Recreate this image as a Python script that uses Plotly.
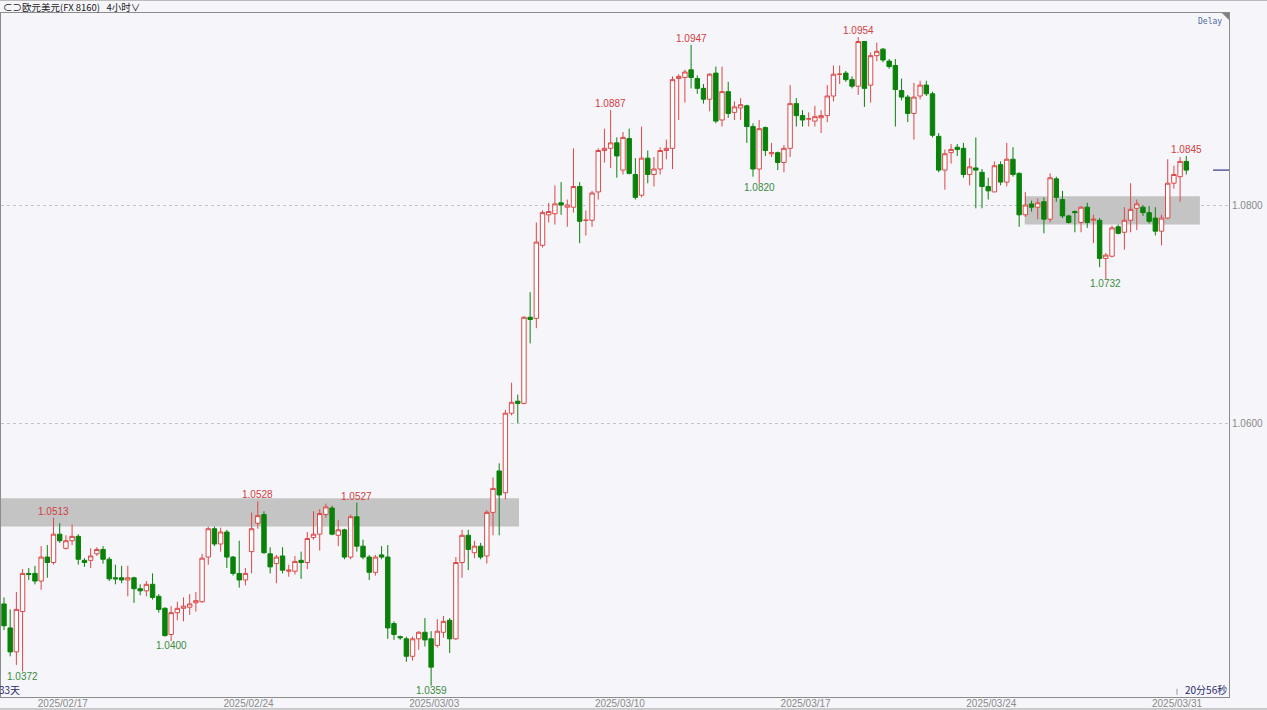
import plotly.graph_objects as go

# ---------------- data (EUR/USD 4h candles) ----------------
open_ = [
    1.0434, 1.0412, 1.0390, 1.0427, 1.0462, 1.0462, 1.0455, 1.0477, 1.0472, 1.0498,
    1.0485, 1.0492, 1.0496, 1.0474, 1.0474, 1.0480, 1.0484, 1.0475, 1.0458, 1.0458,
    1.0456, 1.0458, 1.0448, 1.0446, 1.0452, 1.0441, 1.0430, 1.0406, 1.0426, 1.0430,
    1.0431, 1.0435, 1.0436, 1.0477, 1.0503, 1.0489, 1.0500, 1.0477, 1.0462, 1.0456,
    1.0482, 1.0508, 1.0516, 1.0480, 1.0471, 1.0478, 1.0464, 1.0464, 1.0474, 1.0472,
    1.0495, 1.0498, 1.0516, 1.0522, 1.0497, 1.0502, 1.0477, 1.0514, 1.0487, 1.0477,
    1.0463, 1.0479, 1.0477, 1.0416, 1.0404, 1.0402, 1.0386, 1.0402, 1.0408, 1.0402,
    1.0396, 1.0408, 1.0419, 1.0402, 1.0472, 1.0497, 1.0481, 1.0487, 1.0478, 1.0518,
    1.0556, 1.0536, 1.0609, 1.0620, 1.0618, 1.0697, 1.0696, 1.0763, 1.0791, 1.0792,
    1.0802, 1.0798, 1.0798, 1.0817, 1.0786, 1.0786, 1.0812, 1.0850, 1.0852, 1.0857,
    1.0832, 1.0861, 1.0828, 1.0809, 1.0843, 1.0828, 1.0833, 1.0850, 1.0852, 1.0916,
    1.0917, 1.0924, 1.0916, 1.0907, 1.0897, 1.0921, 1.0878, 1.0904, 1.0885, 1.0889,
    1.0891, 1.0872, 1.0833, 1.0871, 1.0847, 1.0848, 1.0839, 1.0852, 1.0893, 1.0882,
    1.0879, 1.0877, 1.0880, 1.0882, 1.0900, 1.0920, 1.0921, 1.0915, 1.0909, 1.0950,
    1.0910, 1.0937, 1.0943, 1.0932, 1.0928, 1.0905, 1.0899, 1.0884, 1.0900, 1.0910,
    1.0902, 1.0863, 1.0832, 1.0848, 1.0853, 1.0852, 1.0828, 1.0834, 1.0830, 1.0817,
    1.0812, 1.0837, 1.0821, 1.0842, 1.0829, 1.0791, 1.0801, 1.0798, 1.0803, 1.0787,
    1.0824, 1.0805, 1.0790, 1.0794, 1.0784, 1.0798, 1.0786, 1.0786, 1.0751, 1.0753,
    1.0780, 1.0775, 1.0786, 1.0797, 1.0798, 1.0793, 1.0788, 1.0776, 1.0788, 1.0820,
    1.0826, 1.0840,
]
high = [
    1.0440, 1.0429, 1.0445, 1.0466, 1.0467, 1.0469, 1.0487, 1.0488, 1.0513, 1.0508,
    1.0497, 1.0507, 1.0498, 1.0476, 1.0485, 1.0486, 1.0487, 1.0477, 1.0470, 1.0469,
    1.0469, 1.0459, 1.0452, 1.0455, 1.0462, 1.0443, 1.0431, 1.0432, 1.0436, 1.0440,
    1.0443, 1.0445, 1.0480, 1.0505, 1.0505, 1.0504, 1.0502, 1.0478, 1.0492, 1.0467,
    1.0518, 1.0528, 1.0519, 1.0486, 1.0479, 1.0486, 1.0470, 1.0478, 1.0482, 1.0500,
    1.0519, 1.0521, 1.0526, 1.0524, 1.0511, 1.0503, 1.0516, 1.0527, 1.0493, 1.0479,
    1.0479, 1.0487, 1.0488, 1.0418, 1.0405, 1.0404, 1.0404, 1.0409, 1.0421, 1.0409,
    1.0420, 1.0423, 1.0421, 1.0477, 1.0502, 1.0502, 1.0492, 1.0490, 1.0520, 1.0550,
    1.0563, 1.0612, 1.0637, 1.0626, 1.0698, 1.0720, 1.0784, 1.0795, 1.0802, 1.0818,
    1.0821, 1.0805, 1.0852, 1.0821, 1.0795, 1.0813, 1.0852, 1.0870, 1.0887, 1.0862,
    1.0867, 1.0870, 1.0843, 1.0872, 1.0850, 1.0844, 1.0853, 1.0860, 1.0918, 1.0920,
    1.0924, 1.0947, 1.0919, 1.0911, 1.0921, 1.0927, 1.0927, 1.0913, 1.0895, 1.0898,
    1.0892, 1.0875, 1.0878, 1.0872, 1.0857, 1.0849, 1.0855, 1.0910, 1.0898, 1.0887,
    1.0885, 1.0891, 1.0887, 1.0910, 1.0928, 1.0928, 1.0923, 1.0918, 1.0954, 1.0950,
    1.0940, 1.0949, 1.0944, 1.0934, 1.0934, 1.0916, 1.0901, 1.0912, 1.0914, 1.0914,
    1.0904, 1.0866, 1.0851, 1.0856, 1.0856, 1.0857, 1.0843, 1.0862, 1.0833, 1.0825,
    1.0840, 1.0840, 1.0857, 1.0853, 1.0830, 1.0812, 1.0804, 1.0806, 1.0807, 1.0829,
    1.0826, 1.0813, 1.0791, 1.0795, 1.0799, 1.0802, 1.0791, 1.0788, 1.0756, 1.0781,
    1.0782, 1.0798, 1.0820, 1.0805, 1.0800, 1.0799, 1.0798, 1.0791, 1.0842, 1.0836,
    1.0844, 1.0845,
]
low = [
    1.0410, 1.0386, 1.0378, 1.0372, 1.0456, 1.0452, 1.0447, 1.0458, 1.0470, 1.0490,
    1.0484, 1.0488, 1.0470, 1.0468, 1.0467, 1.0478, 1.0471, 1.0455, 1.0452, 1.0453,
    1.0441, 1.0435, 1.0442, 1.0441, 1.0438, 1.0426, 1.0404, 1.0400, 1.0419, 1.0418,
    1.0424, 1.0427, 1.0435, 1.0470, 1.0487, 1.0482, 1.0467, 1.0460, 1.0449, 1.0451,
    1.0462, 1.0503, 1.0480, 1.0462, 1.0453, 1.0462, 1.0459, 1.0461, 1.0457, 1.0466,
    1.0493, 1.0483, 1.0513, 1.0497, 1.0487, 1.0475, 1.0475, 1.0482, 1.0475, 1.0456,
    1.0460, 1.0475, 1.0402, 1.0401, 1.0401, 1.0381, 1.0382, 1.0392, 1.0395, 1.0359,
    1.0394, 1.0403, 1.0389, 1.0401, 1.0458, 1.0465, 1.0476, 1.0475, 1.0471, 1.0497,
    1.0497, 1.0530, 1.0607, 1.0600, 1.0617, 1.0673, 1.0687, 1.0761, 1.0784, 1.0782,
    1.0791, 1.0780, 1.0793, 1.0765, 1.0772, 1.0780, 1.0805, 1.0839, 1.0834, 1.0825,
    1.0828, 1.0828, 1.0805, 1.0807, 1.0820, 1.0817, 1.0828, 1.0842, 1.0833, 1.0878,
    1.0894, 1.0907, 1.0902, 1.0893, 1.0886, 1.0875, 1.0872, 1.0880, 1.0878, 1.0878,
    1.0857, 1.0826, 1.0820, 1.0845, 1.0844, 1.0832, 1.0830, 1.0844, 1.0872, 1.0872,
    1.0872, 1.0872, 1.0866, 1.0876, 1.0895, 1.0911, 1.0913, 1.0907, 1.0901, 1.0890,
    1.0894, 1.0932, 1.0931, 1.0925, 1.0872, 1.0896, 1.0876, 1.0860, 1.0897, 1.0900,
    1.0862, 1.0830, 1.0814, 1.0838, 1.0845, 1.0825, 1.0818, 1.0797, 1.0797, 1.0805,
    1.0812, 1.0818, 1.0817, 1.0826, 1.0780, 1.0789, 1.0794, 1.0787, 1.0774, 1.0784,
    1.0803, 1.0788, 1.0783, 1.0775, 1.0775, 1.0779, 1.0765, 1.0743, 1.0732, 1.0752,
    1.0773, 1.0759, 1.0775, 1.0777, 1.0790, 1.0783, 1.0772, 1.0763, 1.0787, 1.0815,
    1.0803, 1.0828,
]
close = [
    1.0414, 1.0390, 1.0429, 1.0462, 1.0461, 1.0455, 1.0477, 1.0472, 1.0498, 1.0492,
    1.0492, 1.0496, 1.0475, 1.0472, 1.0478, 1.0484, 1.0475, 1.0457, 1.0457, 1.0456,
    1.0458, 1.0448, 1.0446, 1.0452, 1.0440, 1.0429, 1.0405, 1.0426, 1.0430, 1.0432,
    1.0434, 1.0437, 1.0476, 1.0503, 1.0489, 1.0500, 1.0477, 1.0462, 1.0456, 1.0462,
    1.0503, 1.0515, 1.0481, 1.0468, 1.0477, 1.0465, 1.0465, 1.0473, 1.0472, 1.0494,
    1.0498, 1.0517, 1.0523, 1.0498, 1.0502, 1.0477, 1.0514, 1.0487, 1.0477, 1.0463,
    1.0477, 1.0477, 1.0412, 1.0406, 1.0403, 1.0386, 1.0402, 1.0408, 1.0401, 1.0376,
    1.0409, 1.0418, 1.0402, 1.0472, 1.0497, 1.0484, 1.0487, 1.0477, 1.0518, 1.0540,
    1.0534, 1.0609, 1.0619, 1.0618, 1.0697, 1.0695, 1.0766, 1.0793, 1.0794, 1.0801,
    1.0800, 1.0800, 1.0817, 1.0785, 1.0786, 1.0811, 1.0850, 1.0852, 1.0857, 1.0845,
    1.0862, 1.0829, 1.0807, 1.0843, 1.0828, 1.0833, 1.0850, 1.0852, 1.0915, 1.0918,
    1.0922, 1.0917, 1.0907, 1.0897, 1.0920, 1.0877, 1.0904, 1.0884, 1.0890, 1.0892,
    1.0872, 1.0833, 1.0870, 1.0850, 1.0848, 1.0839, 1.0852, 1.0893, 1.0882, 1.0878,
    1.0879, 1.0881, 1.0882, 1.0900, 1.0920, 1.0920, 1.0915, 1.0909, 1.0950, 1.0907,
    1.0937, 1.0941, 1.0933, 1.0927, 1.0906, 1.0899, 1.0884, 1.0899, 1.0910, 1.0902,
    1.0864, 1.0832, 1.0847, 1.0851, 1.0851, 1.0828, 1.0835, 1.0832, 1.0817, 1.0813,
    1.0836, 1.0821, 1.0842, 1.0828, 1.0791, 1.0800, 1.0798, 1.0802, 1.0787, 1.0825,
    1.0807, 1.0790, 1.0784, 1.0793, 1.0798, 1.0784, 1.0787, 1.0751, 1.0754, 1.0779,
    1.0774, 1.0786, 1.0796, 1.0801, 1.0793, 1.0785, 1.0776, 1.0788, 1.0820, 1.0828,
    1.0840, 1.0832,
]

week_start = [10, 40, 70, 100, 130, 160, 190]
week_labels = ["2025/02/17", "2025/02/24", "2025/03/03", "2025/03/10",
               "2025/03/17", "2025/03/24", "2025/03/31"]
y_ticks = [1.0600, 1.0800]
high_marks = [8, 41, 57, 98, 111, 138, 191]
low_marks = [3, 27, 69, 122, 178]
# consolidation zones: (first candle, last candle, lower price, upper price)
zone_start = [-0.5, 164.9]
zone_end = [83.2, 193.2]
zone_low = [1.0505, 1.0782]
zone_high = [1.0531, 1.0808]

title_text = "⊂⊃欧元美元(FX 8160)   4小时∨"
left_note = "33天"
right_note = "20分56秒"

# ---------------- style ----------------
BG = "#f5f5fa"
RED = "#dc4848"
GREEN = "#0a820a"
RED_TXT = "#d24040"
GREEN_TXT = "#3a8c3a"
AXIS_TXT = "#8a8a8a"
FRAME = "#8c8c8c"
NAVY = "#2a2a70"
NUM_FONT = "Liberation Sans, Arial, sans-serif"
CJK_FONT = "Noto Sans CJK SC, DejaVu Sans, sans-serif"

n = len(open_)
idx = list(range(n))

fig = go.Figure()
fig.add_trace(go.Candlestick(
    x=idx, open=open_, high=high, low=low, close=close,
    increasing=dict(line=dict(color=RED, width=1), fillcolor="#ffffff"),
    decreasing=dict(line=dict(color=GREEN, width=1), fillcolor=GREEN),
    whiskerwidth=0, hoverinfo="skip", showlegend=False,
))

# zones
for x0, x1, lo, hi in zip(zone_start, zone_end, zone_low, zone_high):
    fig.add_shape(type="rect", xref="x", yref="y", x0=x0, x1=x1, y0=lo, y1=hi,
                  fillcolor="#c4c4c4", line=dict(width=0), layer="between")

# high / low marks
for i in high_marks:
    fig.add_annotation(x=i, y=high[i], text=f"{high[i]:.4f}", showarrow=False,
                       yanchor="bottom", xanchor="center", yshift=-1,
                       font=dict(color=RED_TXT, size=10, family=NUM_FONT))
for i in low_marks:
    fig.add_annotation(x=i, y=low[i], text=f"{low[i]:.4f}", showarrow=False,
                       yanchor="top", xanchor="center", yshift=2, borderpad=0,
                       font=dict(color=GREEN_TXT, size=10, family=NUM_FONT))

# current price marker on right edge
fig.add_shape(type="line", xref="paper", yref="y", x0=0.987, x1=1.0,
              y0=close[-1], y1=close[-1], line=dict(color="#5a5a9c", width=1.5))

# countdown tick
fig.add_shape(type="line", xref="x", yref="paper", x0=week_start[-1] - 0.5,
              x1=week_start[-1] - 0.5, y0=0.003, y1=0.012,
              line=dict(color="#9a9a9a", width=1))

# top-right corner triangle
fig.add_shape(type="path", xref="paper", yref="paper", xsizemode="pixel",
              ysizemode="pixel", xanchor=1, yanchor=1,
              path="M-7,0 L0,0 L0,-7 Z", fillcolor="#808080",
              line=dict(width=0))

# outer lines (bottom strip & top edge)
fig.add_shape(type="line", xref="paper", yref="paper", x0=-0.001, x1=1.031,
              y0=-0.0175, y1=-0.0175, line=dict(color="#a0a0a0", width=1))
fig.add_shape(type="line", xref="paper", yref="paper", x0=-0.001, x1=1.031,
              y0=1.0185, y1=1.0185, line=dict(color="#b0b0b0", width=1))

# texts
fig.add_annotation(xref="paper", yref="paper", x=0, y=1.0095, xanchor="left",
                   yanchor="middle", xshift=1, borderpad=0, showarrow=False,
                   text=title_text,
                   font=dict(size=9.5, color="#222222", family=CJK_FONT))
fig.add_annotation(xref="paper", yref="paper", x=0.9845, y=0.9883,
                   xanchor="center", yanchor="middle",
                   showarrow=False, text="Delay",
                   font=dict(size=8, color="#4a6aa0",
                             family="DejaVu Sans Mono, monospace"))
fig.add_annotation(xref="paper", yref="paper", x=0, y=0.0110, xanchor="left",
                   yanchor="middle", xshift=-3, borderpad=0, showarrow=False,
                   text=left_note,
                   font=dict(size=10, color=NAVY, family=CJK_FONT))
fig.add_annotation(xref="paper", yref="paper", x=1, y=0.0110, xanchor="right",
                   yanchor="middle", xshift=-1, borderpad=0, showarrow=False,
                   text=right_note,
                   font=dict(size=10, color=NAVY, family=CJK_FONT))

fig.update_layout(
    width=1267, height=710,
    margin=dict(l=1, r=38, t=13, b=13, autoexpand=False),
    paper_bgcolor=BG, plot_bgcolor=BG,
    boxgap=0.25, boxgroupgap=0.05,
    showlegend=False,
    xaxis=dict(
        range=[-0.485, 197.9],
        tickmode="array",
        tickvals=[s - 0.5 for s in week_start],
        ticktext=week_labels,
        tickfont=dict(size=10, color=AXIS_TXT, family=NUM_FONT),
        ticks="", ticklen=0, ticklabelstandoff=-3,
        showgrid=False, zeroline=False, automargin=False,
        showline=True, mirror=True, linecolor=FRAME, linewidth=1,
        rangeslider=dict(visible=False), fixedrange=True,
    ),
    yaxis=dict(
        side="right",
        range=[1.034862, 1.097615],
        tickmode="array",
        tickvals=y_ticks,
        ticktext=[f"{v:.4f}" for v in y_ticks],
        tickfont=dict(size=10, color=AXIS_TXT, family=NUM_FONT),
        ticks="", showgrid=True, gridcolor="#c4c4c8", griddash="3px,3px",
        gridwidth=1, zeroline=False, automargin=False,
        showline=True, mirror=True, linecolor=FRAME, linewidth=1,
        fixedrange=True,
    ),
)

fig.write_html(
    "out.html",
    config={"displayModeBar": False},
    post_script="document.body.style.margin='0';"
                "document.body.style.background='#f5f5fa';"
                "document.body.style.overflow='hidden';",
)
